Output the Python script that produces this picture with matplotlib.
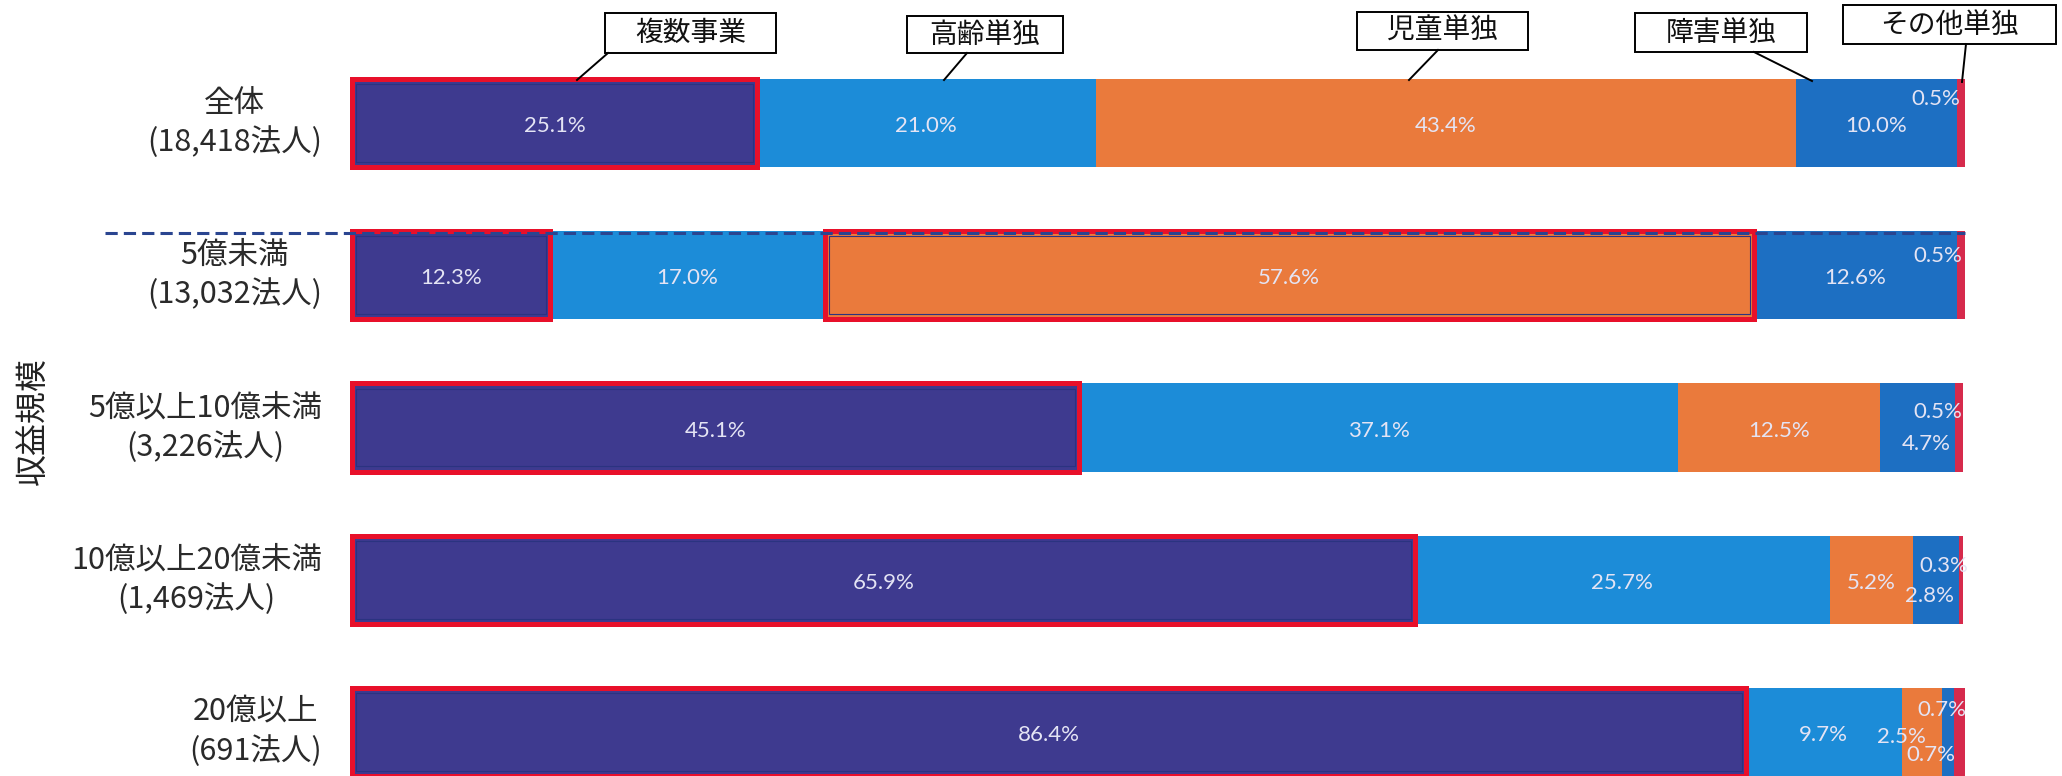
import matplotlib
matplotlib.use('Agg')
import numpy as np
import matplotlib.pyplot as plt
from matplotlib.patches import Rectangle

plt.rcParams['font.family'] = ['Noto Sans CJK JP', 'DejaVu Sans']

# データ
categories = ['全体\n(18,418法人)', '5億未満\n(13,032法人)', '5億以上10億未満\n(3,226法人)',
              '10億以上20億未満\n(1,469法人)', '20億以上\n(691法人)']
series = ['複数事業', '高齢単独', '児童単独', '障害単独', 'その他単独']
fukusu = [25.1, 12.3, 45.1, 65.9, 86.4]
koreisha = [21.0, 17.0, 37.1, 25.7, 9.7]
jido = [43.4, 57.6, 12.5, 5.2, 2.5]
shogai = [10.0, 12.6, 4.7, 2.8, 0.7]
sonota = [0.5, 0.5, 0.5, 0.3, 0.7]

colors = ['#3e3a8f', '#1c8cd8', '#ea7a3c', '#1d6fc2', '#d62a4c']
red = '#e8102a'
label_color = '#e4e4f4'

# ピクセル -> データ座標
def dx(px):
    return (px - 352) / 16.13

def dy(py):
    return (py - 123) / 152.25

fig = plt.figure(figsize=(20.62, 7.76), dpi=100)
ax = fig.add_axes([0, 0, 1, 1])
ax.set_xlim(dx(0), dx(2062))
ax.set_ylim(dy(776), dy(0))
ax.axis('off')

data = np.array([fukusu, koreisha, jido, shogai, sonota]).T  # rows x series
lefts = np.hstack([np.zeros((len(categories), 1)), np.cumsum(data, axis=1)[:, :-1]])
y = np.arange(len(categories))
h = 0.58

for j in range(len(series)):
    ax.barh(y, data[:, j], left=lefts[:, j], height=h, color=colors[j],
            edgecolor='none', zorder=2)

# 赤枠
highlight = [(0, 0), (1, 0), (1, 2), (2, 0), (3, 0), (4, 0)]
for r, s in highlight:
    ax.add_patch(Rectangle((lefts[r, s], r - h / 2), data[r, s], h, fill=False,
                           edgecolor=red, lw=3.6, zorder=3))
    ax.add_patch(Rectangle((lefts[r, s] + 0.25, r - h / 2 + 0.035), data[r, s] - 0.5, h - 0.07,
                           fill=False, edgecolor='#2b3380', lw=0.8, zorder=3))

# 数値ラベル
small_pos = {  # (row, series): (x, y, ha)
    (0, 4): (dx(1960), dy(99), 'right'),
    (1, 4): (dx(1962), dy(256), 'right'),
    (2, 4): (dx(1962), dy(412), 'right'),
    (2, 3): (dx(1926), dy(444), 'center'),
    (3, 4): (dx(1968), dy(566), 'right'),
    (3, 3): (dx(1930), dy(596), 'center'),
    (4, 4): (dx(1966), dy(710), 'right'),
    (4, 3): (dx(1931), dy(755), 'center'),
    (4, 2): (dx(1901), dy(737), 'center'),
}
for r in range(len(categories)):
    for s in range(len(series)):
        txt = f'{data[r, s]:.1f}%'
        if (r, s) in small_pos:
            xx, yy, ha = small_pos[(r, s)]
        else:
            xx, yy, ha = lefts[r, s] + data[r, s] / 2, r + 0.02, 'center'
        ax.text(xx, yy, txt, ha=ha, va='center', fontsize=16, color=label_color,
                family=['Lato', 'DejaVu Sans'], zorder=5)

# カテゴリラベル
for r, lab in enumerate(categories):
    ax.text(dx(322), r, lab, ha='right', va='center', multialignment='center',
            fontsize=22, color='#2a2a2a', linespacing=1.3)

ax.text(dx(33), dy(421), '収益規模', rotation=90, ha='center', va='center',
        fontsize=23, color='#222222')

# 破線
ax.plot([dx(105), 100], [dy(233), dy(233)], color='#2a4590', lw=2.2,
        dashes=(4, 2), zorder=4)

# 凡例の吹き出し (box: x0, x1, y0, y1 px, line start px, line end px)
callouts = [
    (series[0], (605, 776, 13, 53), (608, 53), (577, 80)),
    (series[1], (907, 1063, 16, 53), (967, 53), (944, 80)),
    (series[2], (1357, 1528, 12, 50), (1438, 50), (1409, 80)),
    (series[3], (1635, 1807, 13, 52), (1754, 52), (1812, 81)),
    (series[4], (1843, 2056, 5, 44), (1966, 44), (1962, 82)),
]
for name, (x0, x1, y0, y1), (lx0, ly0), (lx1, ly1) in callouts:
    ax.add_patch(Rectangle((dx(x0), dy(y0)), dx(x1) - dx(x0), dy(y1) - dy(y0),
                           facecolor='white', edgecolor='black', lw=1.4, zorder=6,
                           clip_on=False))
    ax.text((dx(x0) + dx(x1)) / 2, (dy(y0) + dy(y1)) / 2, name, ha='center',
            va='center', fontsize=20, color='#111111', zorder=7)
    ax.plot([dx(lx0), dx(lx1)], [dy(ly0), dy(ly1)], color='black', lw=1.4, zorder=6)

fig.savefig('out.png', dpi=100, facecolor='white')
